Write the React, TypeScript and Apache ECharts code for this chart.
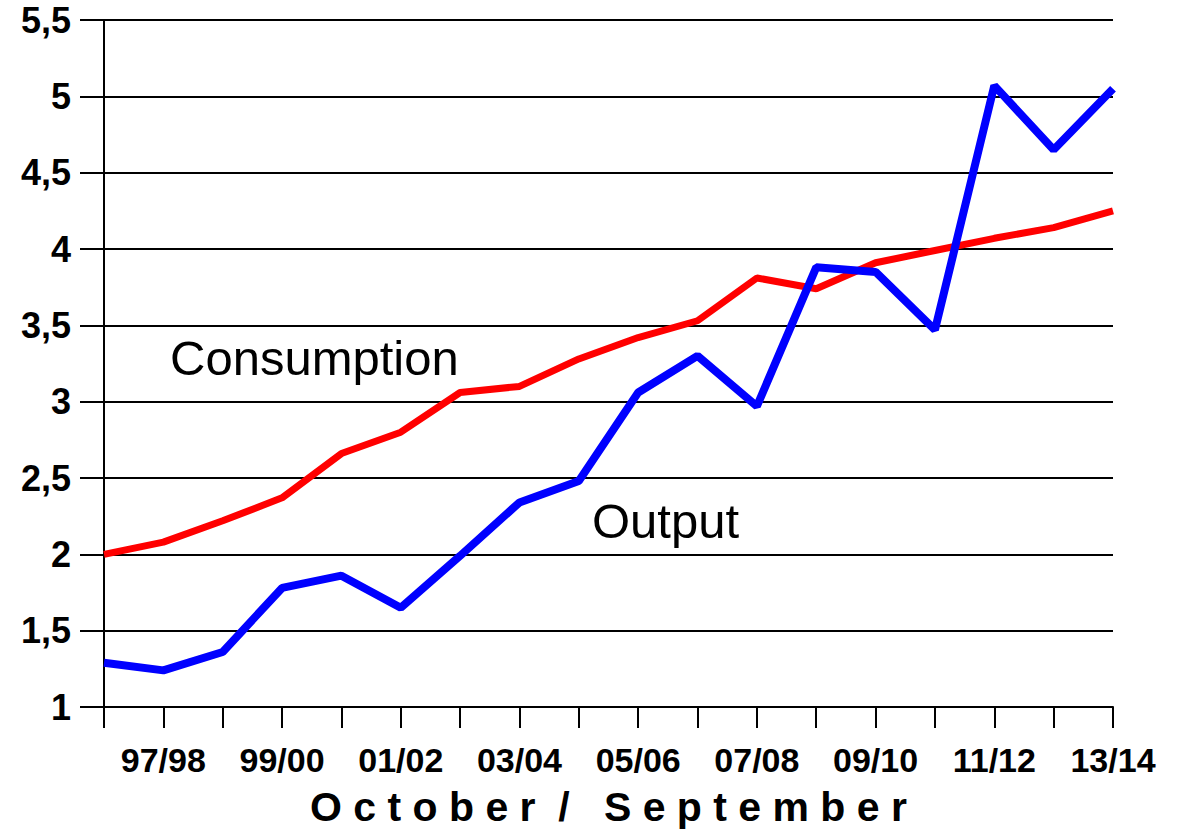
import React, { useEffect, useRef } from "react";
import * as echarts from "echarts";

const categories = [
  "96/97", "97/98", "98/99", "99/00", "00/01", "01/02", "02/03", "03/04", "04/05",
  "05/06", "06/07", "07/08", "08/09", "09/10", "10/11", "11/12", "12/13", "13/14",
];
const consumption = [
  2.0, 2.08, 2.22, 2.37, 2.66, 2.8, 3.06, 3.1, 3.28, 3.42, 3.53, 3.81, 3.74, 3.91, 3.99, 4.07, 4.14, 4.25,
];
const output = [
  1.29, 1.24, 1.36, 1.78, 1.86, 1.65, 1.99, 2.34, 2.48, 3.06, 3.3, 2.97, 3.88, 3.85, 3.47, 5.07, 4.65, 5.05,
];
const seriesNames = ["Consumption", "Output"];
const axisTitle = "O c t o b e r\u00a0\u00a0/\u00a0\u00a0\u00a0S e p t e m b e r";

export default function App() {
  const ref = useRef<HTMLDivElement>(null);
  useEffect(() => {
    if (!ref.current) return;
    const chart = echarts.init(ref.current, null, { renderer: "svg" });
    const font = "'Liberation Sans', Arial, sans-serif";
    chart.setOption({
      animation: false,
      backgroundColor: "#ffffff",
      grid: { left: 104, right: 71, top: 20, bottom: 121, containLabel: false },
      xAxis: {
        type: "category",
        data: categories,
        boundaryGap: false,
        axisLine: { lineStyle: { color: "#000", width: 2 } },
        axisTick: { show: true, interval: 0, length: 21, lineStyle: { color: "#000", width: 2 } },
        axisLabel: {
          interval: (i: number) => i % 2 === 1,
          color: "#000",
          fontFamily: font,
          fontWeight: "bold",
          fontSize: 34,
          margin: 36,
        },
        splitLine: { show: false },
        name: axisTitle,
        nameLocation: "middle",
        nameGap: 79,
        nameTextStyle: { color: "#000", fontFamily: font, fontWeight: "bold", fontSize: 41 },
      },
      yAxis: {
        type: "value",
        min: 1,
        max: 5.5,
        interval: 0.5,
        axisLine: { show: true, lineStyle: { color: "#000", width: 2 } },
        axisTick: { show: true, length: 24, lineStyle: { color: "#000", width: 2 } },
        axisLabel: {
          color: "#000",
          fontFamily: font,
          fontWeight: "bold",
          fontSize: 36,
          margin: 33,
          formatter: (v: number) => String(v).replace(".", ","),
        },
        splitLine: { show: true, lineStyle: { color: "#000", width: 2 } },
      },
      series: [
        {
          name: seriesNames[0],
          type: "line",
          data: consumption,
          showSymbol: false,
          symbol: "none",
          lineStyle: { color: "#ff0000", width: 7 },
          z: 3,
        },
        {
          name: seriesNames[1],
          type: "line",
          data: output,
          showSymbol: false,
          symbol: "none",
          lineStyle: { color: "#0000ff", width: 8 },
          z: 4,
        },
      ],
      graphic: [
        {
          type: "text",
          left: 170,
          top: 333,
          style: { text: seriesNames[0], fill: "#000", font: `49px ${font}` },
        },
        {
          type: "text",
          left: 592,
          top: 496,
          style: { text: seriesNames[1], fill: "#000", font: `49px ${font}` },
        },
      ],
    });
    return () => chart.dispose();
  }, []);
  return (
    <div
      ref={ref}
      style={{ position: "fixed", left: 0, top: 0, width: 1184, height: 832, background: "#fff" }}
    />
  );
}
